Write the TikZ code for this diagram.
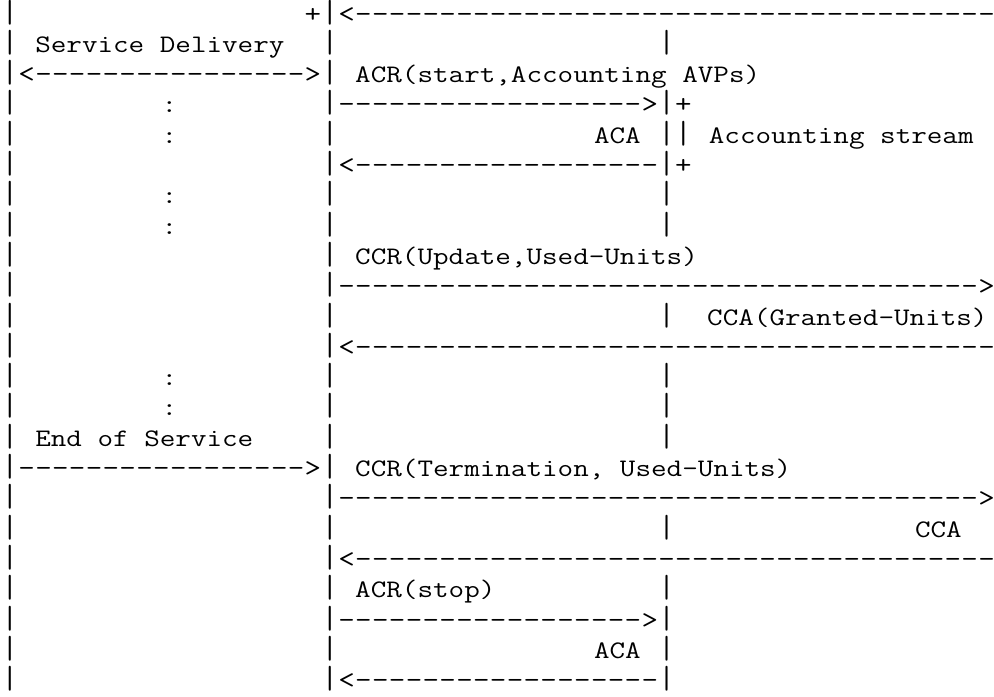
\documentclass[tikz,border=0pt]{standalone}
\usetikzlibrary{positioning}
\tikzset{
    art/.style = {inner sep=0, outer sep=0, anchor=base west, xscale=1.2, font=\fontsize{26.7}{30}\selectfont\ttfamily},
    bar/.style = {art, yscale=1.2},
    lbl/.style = {inner sep=0, outer sep=0, anchor=base west, xscale=1.2, font=\fontsize{25.2}{30}\selectfont\ttfamily}
}
% one dash glyph per column, so the runs stay on the grid
\newcommand{\dashrun}[3]{\foreach \k in {#2,...,#3} \node (d#1-\k) [art] at (\k,#1) {-};}

\begin{document}
\begin{tikzpicture}[x=16.84pt, y=-30.3pt]
    \useasboundingbox (0,0) rectangle (59.026,23.003);
    \begin{scope}[shift={(0.095,-0.274)}]
    % lifelines
    \foreach \r in {1,...,23} {
        \node (lb\r) [bar] at (0,\r) {|};
        \node (mb\r) [bar] at (19,\r) {|};
    }
    \foreach \r in {2,4,5,6,7,8,11,13,14,15,18,20,21,22,23}
        \node (rb\r) [bar] at (39,\r) {|};

    % arrows
    \node (p1) [art] at (18,1) {+};
    \node (lt1) [art] at (20,1) {<};
    \dashrun{1}{21}{58}
    \node (lt3) [art] at (1,3) {<};
    \dashrun{3}{2}{17}
    \node (gt3) [art] at (18,3) {>};
    \dashrun{4}{20}{37}
    \node (gt4) [art] at (38,4) {>};
    \node (p4) [art] at (40,4) {+};
    \node (sb5) [bar] at (40,5) {|};
    \node (lt6) [art] at (20,6) {<};
    \dashrun{6}{21}{38}
    \node (p6) [art] at (40,6) {+};
    \dashrun{10}{20}{57}
    \node (gt10) [art] at (58,10) {>};
    \node (lt12) [art] at (20,12) {<};
    \dashrun{12}{21}{58}
    \dashrun{16}{1}{17}
    \node (gt16) [art] at (18,16) {>};
    \dashrun{17}{20}{57}
    \node (gt17) [art] at (58,17) {>};
    \node (lt19) [art] at (20,19) {<};
    \dashrun{19}{21}{58}
    \dashrun{21}{20}{37}
    \node (gt21) [art] at (38,21) {>};
    \node (lt23) [art] at (20,23) {<};
    \dashrun{23}{21}{38}

    % labels
    \node (svc) [lbl] at (2,2) {Service Delivery};
    \node (acrs) [lbl] at (21,3) {ACR(start,Accounting AVPs)};
    \foreach \r in {4,5,7,8,13,14}
        \node (c\r) [lbl, anchor=base] at (9.97,\r) {:};
    \node (aca1) [lbl] at (35.18,5) {ACA};
    \node (strm) [lbl] at (42,5) {Accounting stream};
    \node (ccru) [lbl] at (21,9) {CCR(Update,Used-Units)};
    \node (ccag) [lbl] at (41.9,11) {CCA(Granted-Units)};
    \node (eos) [lbl] at (2,15) {End of Service};
    \node (ccrt) [lbl] at (21,16) {CCR(Termination, Used-Units)};
    \node (cca) [lbl] at (54.24,18) {CCA};
    \node (acrp) [lbl] at (21,20) {ACR(stop)};
    \node (aca2) [lbl] at (35.18,22) {ACA};
    \end{scope}
\end{tikzpicture}
\end{document}
